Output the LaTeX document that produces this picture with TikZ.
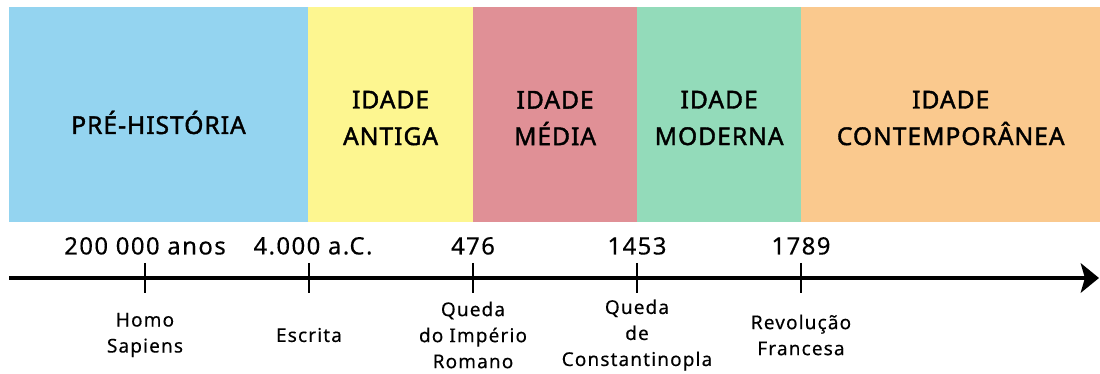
\documentclass[tikz,border=0pt]{standalone}
\usepackage{fontspec}
\setmainfont{Noto Sans}
\newfontfamily\erafont[LetterSpace=4,FakeBold=1.6]{Noto Sans}
\newfontfamily\datefont[LetterSpace=6,FakeBold=0.3]{Noto Sans}
\newfontfamily\eventfont[LetterSpace=6,FakeBold=0.3]{Noto Sans}
\usepackage{xcolor}
\definecolor{prebg}{RGB}{148,212,240}
\definecolor{antigabg}{RGB}{253,246,144}
\definecolor{mediabg}{RGB}{224,144,150}
\definecolor{modernabg}{RGB}{147,219,186}
\definecolor{contempbg}{RGB}{250,201,142}
\usetikzlibrary{positioning}
\usetikzlibrary{arrows.meta}

\begin{document}
\begin{tikzpicture}[x=0.025cm,y=0.025cm,
      era style/.style={rectangle,draw=none,inner sep=0pt,outer sep=0pt,
        minimum height=5.375cm},
      era label/.style={inner sep=0pt,align=center,
        font=\erafont\fontsize{17.5}{26}\selectfont},
      date style/.style={inner sep=0pt,font=\datefont\fontsize{17}{20}\selectfont},
      event style/.style={inner sep=0pt,align=center,
        font=\eventfont\fontsize{13.5}{18.5}\selectfont}
      ]
      \useasboundingbox (0,0) rectangle (1100,374);

      \node[era style, fill=prebg, minimum width=7.475cm, anchor=south west,
        label={[era label,yshift=-0.2cm]center:PRÉ-HISTÓRIA}] (pre) at (9,152) {};
      \node[era style, fill=antigabg, minimum width=4.125cm, right=0pt of pre,
        label={[era label,yshift=-0.09cm]center:IDADE \\ ANTIGA}] (antiga) {};
      \node[era style, fill=mediabg, minimum width=4.1cm, right=0pt of antiga,
        label={[era label,yshift=-0.09cm]center:IDADE \\ MÉDIA}] (media) {};
      \node[era style, fill=modernabg, minimum width=4.1cm, right=0pt of media,
        label={[era label,yshift=-0.09cm]center:IDADE \\ MODERNA}] (moderna) {};
      \node[era style, fill=contempbg, minimum width=7.475cm, right=0pt of moderna,
        label={[era label,yshift=-0.09cm]center:IDADE \\ CONTEMPORÂNEA}] (contemp) {};

      \coordinate (axis start) at (9,96);
      \coordinate (axis end) at (1099,96);
      \draw[line width=2.8pt,-{Stealth[length=13pt,width=21pt,inset=3pt]}] (axis start) -- (axis end);

      \coordinate (homo) at (145,96);
      \coordinate (escrita) at (309,96);
      \coordinate (roma) at (473,96);
      \coordinate (const) at (637,96);
      \coordinate (revol) at (801,96);

      \draw[line width=1.8pt] ([yshift=0.375cm]homo) -- ([yshift=-0.375cm]homo);
      \draw[line width=1.8pt] ([yshift=0.375cm]escrita) -- ([yshift=-0.375cm]escrita);
      \draw[line width=1.8pt] ([yshift=0.375cm]roma) -- ([yshift=-0.375cm]roma);
      \draw[line width=1.8pt] ([yshift=0.375cm]const) -- ([yshift=-0.375cm]const);
      \draw[line width=1.8pt] ([yshift=0.375cm]revol) -- ([yshift=-0.375cm]revol);

      \node[date style, above=0.575cm of homo] (homo date) {200 000 anos};
      \node[date style, above=0.575cm of escrita, xshift=0.1cm] (escrita date) {4.000 a.C.};
      \node[date style, above=0.575cm of roma] (roma date) {476};
      \node[date style, above=0.575cm of const] (const date) {1453};
      \node[date style, above=0.575cm of revol] (revol date) {1789};

      \node[event style] (homo event) at ([yshift=-1.425cm]homo) {Homo \\ Sapiens};
      \node[event style] (escrita event) at ([yshift=-1.425cm]escrita) {Escrita};
      \node[event style] (roma event) at ([yshift=-1.425cm]roma) {Queda \\ do Império \\ Romano};
      \node[event style] (const event) at ([yshift=-1.425cm]const) {Queda \\ de \\ Constantinopla};
      \node[event style] (revol event) at ([yshift=-1.425cm]revol) {Revolução \\ Francesa};
    \end{tikzpicture}
\end{document}
